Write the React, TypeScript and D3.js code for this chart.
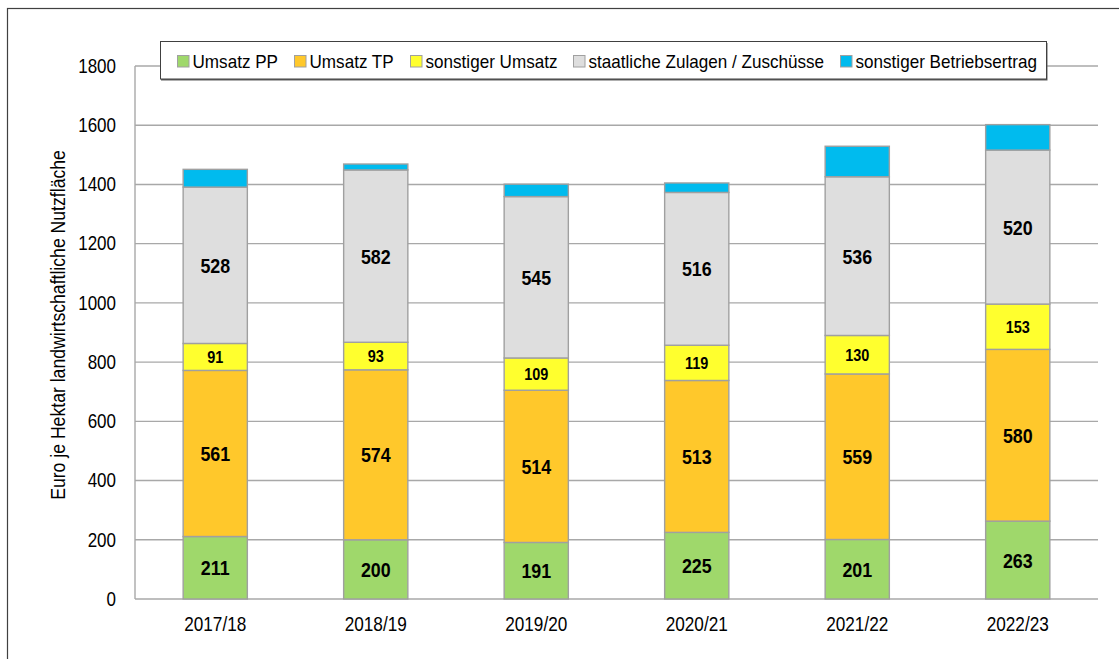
import React from "react";
import * as d3 from "d3";

const categories = ["2017/18", "2018/19", "2019/20", "2020/21", "2021/22", "2022/23"];
const umsatzPP = [211, 200, 191, 225, 201, 263];
const umsatzTP = [561, 574, 514, 513, 559, 580];
const sonstigerUmsatz = [91, 93, 109, 119, 130, 153];
const zulagen = [528, 582, 545, 516, 536, 520];
const betriebsertrag = [60, 20, 42, 32, 103, 86];
const seriesNames = ["Umsatz PP", "Umsatz TP", "sonstiger Umsatz", "staatliche Zulagen / Zuschüsse", "sonstiger Betriebsertrag"];
const yTicks = [0, 200, 400, 600, 800, 1000, 1200, 1400, 1600, 1800];
const yTitle = "Euro je Hektar landwirtschaftliche Nutzfläche";
const labelSeries = [true, true, true, true, false];

const colors = ["#9fd86b", "#ffc82b", "#ffff2e", "#dedede", "#00bbee"];
const FONT = "'Liberation Sans', Arial, sans-serif";

function T(props: any) {
  const { x, y, sx = 1, rotate = 0, children, ...rest } = props;
  return (
    <text transform={`translate(${x},${y})${rotate ? ` rotate(${rotate})` : ""} scale(${sx},1)`} fill="#000" {...rest}>
      {children}
    </text>
  );
}

export default function App() {
  const W = 1119, H = 659;
  const left = 135, right = 1098, top = 66, bottom = 599;
  const seriesValues = [umsatzPP, umsatzTP, sonstigerUmsatz, zulagen, betriebsertrag];
  const rows = categories.map((c, i) => {
    const r: any = { cat: c };
    seriesNames.forEach((s, k) => (r[s] = seriesValues[k][i]));
    return r;
  });
  const stacked = d3.stack().keys(seriesNames)(rows as any);
  const x = d3.scaleBand().domain(categories).range([left, right]).padding(0);
  const y = d3.scaleLinear().domain([0, 1800]).range([bottom, top]);
  const bw = x.bandwidth() * 0.4;

  const legendX = [177, 294, 410, 573, 840];

  return (
    <svg width={W} height={H} style={{ position: "absolute", left: 0, top: 0, background: "#fff" }} fontFamily={FONT}>
      <rect x={7.5} y={8.5} width={1130} height={680} fill="#fff" stroke="#404040" strokeWidth={1.2} />
      {yTicks.map((t) => (
        <g key={t}>
          <line x1={left} x2={right} y1={y(t)} y2={y(t)} stroke="#a8a8a8" strokeWidth={1.4} />
          <T x={116} y={y(t)} sx={0.85} dy="0.34em" textAnchor="end" fontSize={20}>{t}</T>
        </g>
      ))}
      <line x1={left} x2={left} y1={top} y2={bottom} stroke="#a8a8a8" strokeWidth={1.4} />
      {stacked.map((s, k) => (
        <g key={k}>
          {s.map((d, i) => {
            const x0 = (x(categories[i]) as number) + (x.bandwidth() - bw) / 2;
            return (
              <rect key={i} x={x0} y={y(d[1])} width={bw} height={y(d[0]) - y(d[1])} fill={colors[k]} stroke="#a0a0a0" strokeWidth={1.4} />
            );
          })}
        </g>
      ))}
      {stacked.map((s, k) =>
        labelSeries[k]
          ? s.map((d, i) => {
              const cx = (x(categories[i]) as number) + x.bandwidth() / 2;
              const cy = (y(d[0]) + y(d[1])) / 2;
              const small = k === 2;
              return (
                <T key={`${k}-${i}`} x={cx} y={cy} sx={0.85} dy="0.36em" textAnchor="middle" fontWeight="bold" fontSize={small ? 17 : 21}>
                  {seriesValues[k][i]}
                </T>
              );
            })
          : null
      )}
      {categories.map((c) => (
        <T key={c} x={(x(c) as number) + x.bandwidth() / 2} y={631} sx={0.86} textAnchor="middle" fontSize={20}>{c}</T>
      ))}
      <T x={65} y={325} rotate={-90} sx={0.84} textAnchor="middle" fontSize={21}>{yTitle}</T>
      <rect x={161} y={43} width={886.5} height={37.5} fill="#606060" />
      <rect x={160.5} y={41.5} width={886} height={37.5} fill="#fff" stroke="#404040" strokeWidth={1} />
      {seriesNames.map((s, k) => (
        <g key={s}>
          <rect x={legendX[k] + 0.5} y={55.5} width={11.5} height={11.5} fill={colors[k]} stroke="#a0a0a0" strokeWidth={1} />
          <T x={legendX[k] + 15.5} y={67.5} sx={0.95} fontSize={18}>{s}</T>
        </g>
      ))}
    </svg>
  );
}
